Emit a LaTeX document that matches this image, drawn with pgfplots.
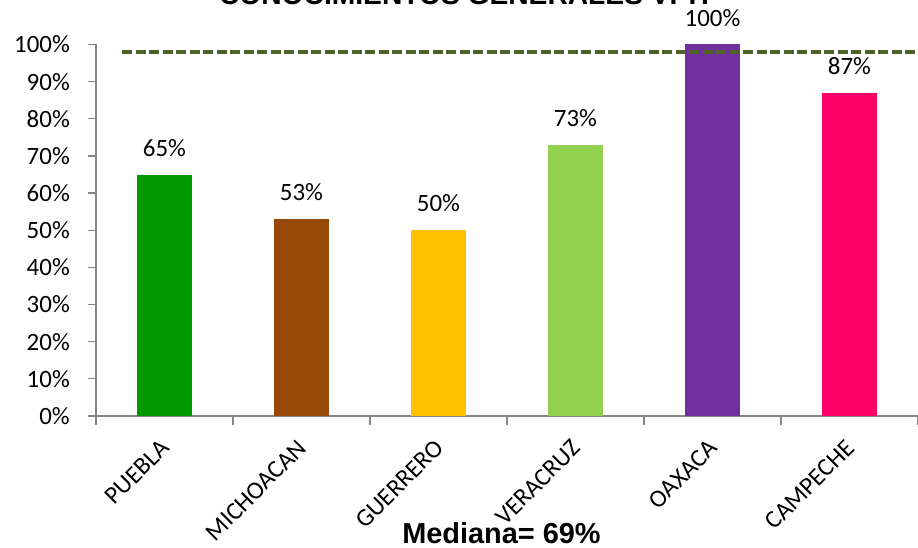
\documentclass[border=0pt]{standalone}
\usepackage{fontspec}
\setmainfont{Carlito}
\newfontfamily\headfont{Liberation Sans}
\usepackage{pgfplots}
\pgfplotsset{compat=1.18}

\definecolor{cPue}{HTML}{009900}
\definecolor{cMic}{HTML}{984807}
\definecolor{cGue}{HTML}{FFC000}
\definecolor{cVer}{HTML}{92D050}
\definecolor{cOax}{HTML}{7030A0}
\definecolor{cCam}{HTML}{FF0066}
\definecolor{cRef}{HTML}{4F6228}
\definecolor{cAxis}{HTML}{868686}

\begin{document}
\begin{tikzpicture}
\pgfresetboundingbox
\useasboundingbox (-96bp,-132bp) rectangle (822bp,416bp);
\begin{axis}[
  at={(0,0)}, anchor=south west,
  scale only axis,
  width=822bp, height=371.5bp,
  xmin=-0.5, xmax=5.5,
  ymin=0, ymax=100,
  clip=false,
  axis x line*=bottom, axis y line*=left,
  axis line style={draw=cAxis, line width=1.2bp},
  every tick/.style={draw=cAxis, line width=1.2bp},
  tick align=outside,
  xtick={0,1,2,3,4,5},
  xticklabels={PUEBLA,MICHOACAN,GUERRERO,VERACRUZ,OAXACA,CAMPECHE},
  major x tick style={draw=none},
  minor xtick={-0.5,0.5,1.5,2.5,3.5,4.5,5.5},
  minor tick length=9bp,
  ytick={0,10,...,100},
  major tick length=8bp,
  /pgf/number format/assume math mode=true,
  yticklabel={\pgfmathprintnumber{\tick}\%},
  tick label style={font=\fontsize{25}{30}\selectfont, text=black},
  yticklabel style={anchor=east, inner sep=0pt, xshift=-18bp},
  xticklabel style={inner sep=0pt, xshift=-5bp, yshift=-14bp, rotate=45, anchor=north east},
  bar width=55.5bp, bar shift=0pt,
  nodes near coords={\pgfmathprintnumber{\pgfplotspointmeta}\%},
  every node near coord/.append style={font=\fontsize{25}{30}\selectfont, text=black, inner sep=0pt, anchor=south, yshift=18bp},
]
% one bar per state, each in its own colour
\addplot[ybar, fill=cPue, draw=none] coordinates {(0,65)};
\addplot[ybar, fill=cMic, draw=none] coordinates {(1,53)};
\addplot[ybar, fill=cGue, draw=none] coordinates {(2,50)};
\addplot[ybar, fill=cVer, draw=none] coordinates {(3,73)};
\addplot[ybar, fill=cOax, draw=none] coordinates {(4,100)};
\addplot[ybar, fill=cCam, draw=none] coordinates {(5,87)};
% reference level
\addplot[sharp plot, no marks, nodes near coords={}, color=cRef, line width=3.5bp, dash pattern=on 10bp off 3.5bp]
  coordinates {(-0.31,98) (5.5,98)};
\end{axis}
\node[anchor=base, font=\headfont\bfseries\fontsize{28.3}{34}\selectfont] at (368bp,411.5bp) {CONOCIMIENTOS GENERALES VPH};
\node[anchor=base, font=\headfont\bfseries\fontsize{29}{35}\selectfont] at (405.5bp,-127bp) {Mediana= 69\%};
\end{tikzpicture}
\end{document}
